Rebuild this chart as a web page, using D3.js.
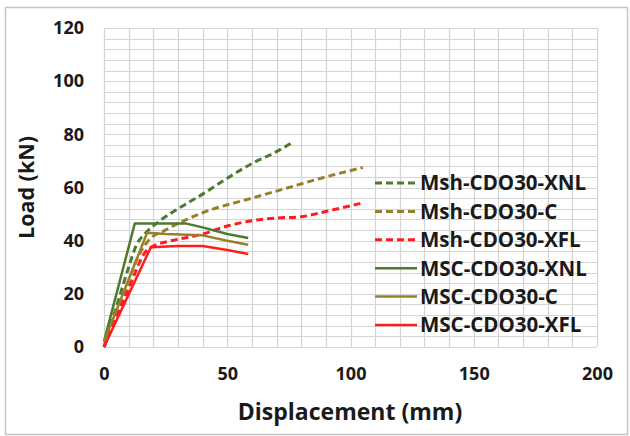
<!DOCTYPE html>
<html>
<head>
<meta charset="utf-8">
<script src="https://cdn.jsdelivr.net/npm/d3@7"></script>
<style>
  html, body { margin: 0; padding: 0; background: #fff; }
  svg { display: block; }
  text { font-family: "Open Sans", Lato, sans-serif; font-weight: bold; fill: #1a1a1a; }
</style>
</head>
<body>
<svg id="chart" width="630" height="436"></svg>
<script>
// ---- data ----
const seriesNames = ["Msh-CDO30-XNL", "Msh-CDO30-C", "Msh-CDO30-XFL", "MSC-CDO30-XNL", "MSC-CDO30-C", "MSC-CDO30-XFL"];
const mshXNL = [[0,0],[5,15],[10,30],[13,38],[17,43],[22,47],[30,52],[40,57.5],[50,63.5],[60,69],[70,73.5],[76.5,77]];
const mshC   = [[0,0],[8,20],[15,36],[18,40],[25,44],[40,50.5],[60,56],[75,60],[88,63.5],[105,67.5]];
const mshXFL = [[0,0],[10,22],[17,36],[20,38],[25,39.5],[30,40.5],[40,42.5],[50,45.5],[60,47.5],[70,48.5],[80,49],[90,51],[104,54]];
const mscXNL = [[0,2],[12.5,46.5],[25,46.5],[33,46.5],[40,45],[50,42.5],[58.5,41]];
const mscC   = [[0,2],[17.5,43],[25,42.5],[40,42],[50,40],[58.5,38.5]];
const mscXFL = [[0,0],[19,37.5],[30,38],[40,38],[50,36.5],[58.5,35]];
const xTicks = [0, 50, 100, 150, 200];
const yTicks = [0, 20, 40, 60, 80, 100, 120];
const xTitle = "Displacement (mm)";
const yTitle = "Load (kN)";

// ---- styles ----
const green = "#4e7a30", olive = "#97802a", red = "#ff1c1c";
const styles = [
  {color: green, dash: "7,4", width: 3, data: mshXNL, curve: d3.curveMonotoneX},
  {color: olive, dash: "7,4", width: 3, data: mshC, curve: d3.curveMonotoneX},
  {color: red,   dash: "7,4", width: 3, data: mshXFL, curve: d3.curveMonotoneX},
  {color: green, dash: null,  width: 2.5, data: mscXNL, curve: d3.curveLinear},
  {color: olive, dash: null,  width: 2.5, data: mscC, curve: d3.curveLinear},
  {color: red,   dash: null,  width: 2.5, data: mscXFL, curve: d3.curveLinear}
];

const svg = d3.select("#chart");
const L = 104, R = 597, T = 28, B = 347;
const x = d3.scaleLinear().domain([0, 200]).range([L, R]);
const y = d3.scaleLinear().domain([0, 120]).range([B, T]);

// outer frame
svg.append("rect").attr("x", 5.5).attr("y", 7.5).attr("width", 622).attr("height", 427)
  .attr("fill", "#fff").attr("stroke", "#c4c4c4").attr("stroke-width", 1.5);

// gridlines
const g = svg.append("g");
g.selectAll(".vg").data(d3.range(0, 201, 10)).join("line")
  .attr("x1", d => Math.round(x(d)) + 0.5).attr("x2", d => Math.round(x(d)) + 0.5)
  .attr("y1", T).attr("y2", B).attr("stroke", "#d4d4d4").attr("stroke-width", 1.2);
g.selectAll(".hg").data(d3.range(0, 121, 4)).join("line")
  .attr("y1", d => Math.round(y(d)) + 0.5).attr("y2", d => Math.round(y(d)) + 0.5)
  .attr("x1", L).attr("x2", R).attr("stroke", "#d4d4d4").attr("stroke-width", 1.2);

// axes
const xAxis = svg.append("g").attr("transform", `translate(0,${B})`)
  .call(d3.axisBottom(x).tickValues(xTicks).tickSize(0).tickPadding(20));
xAxis.select(".domain").remove();
xAxis.selectAll("text").attr("font-size", 18).style("font-family", "'Open Sans'").style("font-weight", "bold").attr("fill", "#1a1a1a");

const yAxis = svg.append("g").attr("transform", `translate(${L},0)`)
  .call(d3.axisLeft(y).tickValues(yTicks).tickSize(0).tickPadding(20));
yAxis.select(".domain").remove();
yAxis.selectAll("text").attr("font-size", 18).style("font-family", "'Open Sans'").style("font-weight", "bold").attr("fill", "#1a1a1a");

// titles
svg.append("text").attr("x", 350).attr("y", 420).attr("text-anchor", "middle")
  .attr("font-size", 23).text(xTitle);
svg.append("text").attr("transform", `translate(34,${(T + B) / 2}) rotate(-90)`)
  .attr("text-anchor", "middle").attr("font-size", 21.5).text(yTitle);

// series
const plot = svg.append("g");
styles.forEach(s => {
  const line = d3.line().x(d => x(d[0])).y(d => y(d[1])).curve(s.curve);
  plot.append("path").attr("d", line(s.data)).attr("fill", "none")
    .attr("stroke", s.color).attr("stroke-width", s.width)
    .attr("stroke-dasharray", s.dash).attr("stroke-linejoin", "round");
});

// legend
const leg = svg.append("g");
seriesNames.forEach((name, i) => {
  const ly = 183 + i * 28.4;
  const s = styles[i];
  leg.append("line").attr("x1", 375).attr("x2", 417).attr("y1", ly).attr("y2", ly)
    .attr("stroke", s.color).attr("stroke-width", s.width).attr("stroke-dasharray", s.dash);
  leg.append("text").attr("x", 420).attr("y", ly).attr("dy", "0.36em")
    .attr("font-size", 20.5).text(name);
});
</script>
</body>
</html>
